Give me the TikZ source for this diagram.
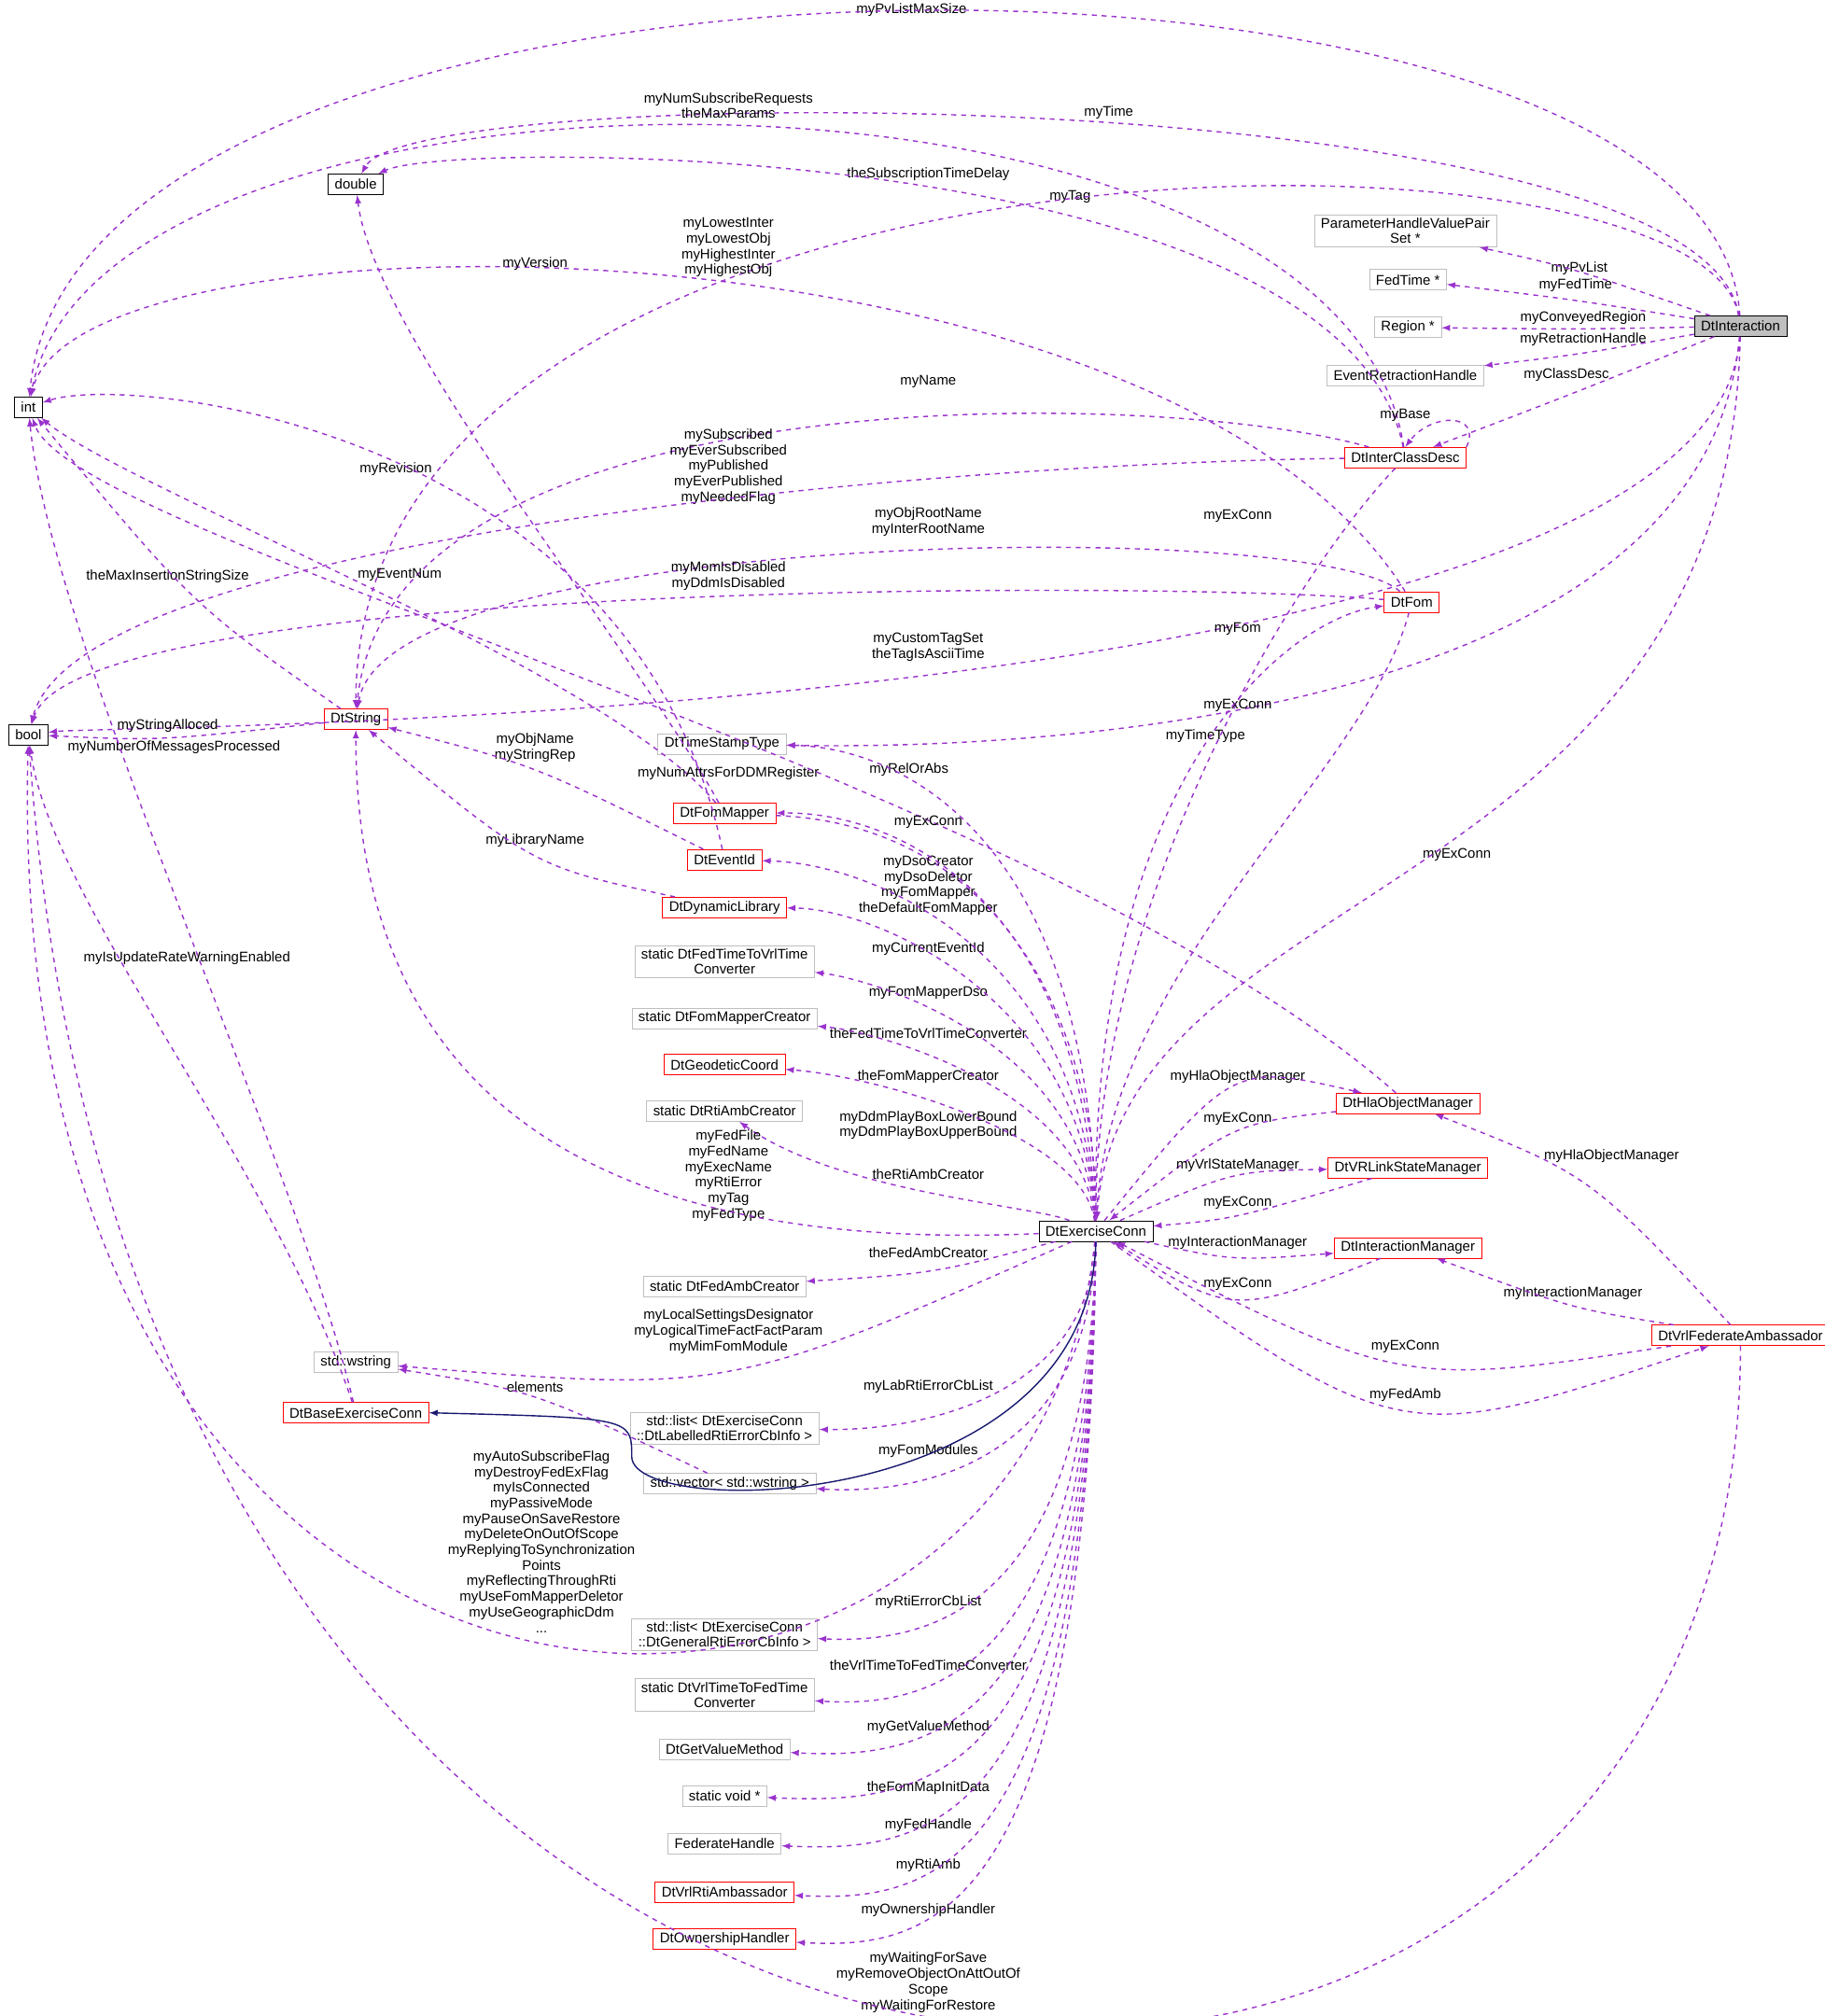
\documentclass[tikz,border=0pt]{standalone}
\usepackage{fontspec}
\setmainfont{Liberation Sans}
\usetikzlibrary{arrows,calc,positioning,shapes}

\definecolor{relpurple}{HTML}{9A32CD}
\definecolor{boxgray}{HTML}{BFBFBF}
\definecolor{inhblue}{HTML}{191970}

\tikzset{
  cls/.style={draw=black, rectangle, minimum height=0.44cm, inner xsep=4pt, inner ysep=2pt,
    align=center, font=\fontsize{8.5}{9.5}\selectfont},
  redcls/.style={cls, draw=red},
  graycls/.style={cls, draw=boxgray},
  focus/.style={cls, fill=boxgray},
  lbl/.style={align=center, inner sep=0.5pt, font=\fontsize{8.5}{9.5}\selectfont},
  usage/.style={draw=relpurple, dashed, thick, -latex},
  inherit/.style={draw=inhblue, thick, -latex}
}

% #1 from, #2 to, #3 name, #4 via point, #5 label position, #6 text
\newcommand{\collab}[6]{%
  \node[lbl] (l-#3) at (#5) {#6};
  \coordinate (v-#3) at (#4);
  \coordinate (m-#3) at ($(#1)!0.5!(#2)$);
  \draw[usage] (#1) .. controls ($(v-#3)!-0.3333!(m-#3)$) .. (#2);
}
% #1 from, #2 to, #3 name, #4 and #5 controls, #6 label position, #7 text
\newcommand{\collabc}[7]{%
  \node[lbl] (l-#3) at (#6) {#7};
  \draw[usage] (#1) .. controls (#4) and (#5) .. (#2);
}

\begin{document}
\begin{tikzpicture}[x=0.0276cm, y=-0.0276cm]
    \useasboundingbox (0,0) rectangle (1415,1564);

    % classes
    \node[cls] (nInt) at (22,316) {int};
    \node[cls] (nBool) at (22,570) {bool};
    \node[cls] (nDouble) at (276,143) {double};
    \node[focus] (nInteraction) at (1350,253) {DtInteraction};
    \node[graycls] (nPvPair) at (1090,179) {ParameterHandleValuePair\\Set *};
    \node[graycls] (nFedTime) at (1092,217) {FedTime *};
    \node[graycls] (nRegion) at (1092,254) {Region *};
    \node[graycls] (nRetraction) at (1090,291) {EventRetractionHandle};
    \node[redcls] (nClassDesc) at (1090,355) {DtInterClassDesc};
    \node[redcls] (nFom) at (1095,467) {DtFom};
    \node[redcls] (nString) at (276,558) {DtString};
    \node[graycls] (nTimeStamp) at (560,577) {DtTimeStampType};
    \node[redcls] (nFomMapper) at (562,631) {DtFomMapper};
    \node[redcls] (nEventId) at (562,667) {DtEventId};
    \node[redcls] (nDynLib) at (562,704) {DtDynamicLibrary};
    \node[graycls] (nFedToVrl) at (562,746) {static DtFedTimeToVrlTime\\Converter};
    \node[graycls] (nMapperCreator) at (562,790) {static DtFomMapperCreator};
    \node[redcls] (nGeodetic) at (562,826) {DtGeodeticCoord};
    \node[graycls] (nRtiAmbCreator) at (562,862) {static DtRtiAmbCreator};
    \node[cls] (nExConn) at (850,955) {DtExerciseConn};
    \node[graycls] (nFedAmbCreator) at (562,998) {static DtFedAmbCreator};
    \node[graycls] (nWstring) at (276,1057) {std::wstring};
    \node[redcls] (nBaseConn) at (276,1096) {DtBaseExerciseConn};
    \node[graycls] (nLabList) at (562,1108) {std::list< DtExerciseConn\\::DtLabelledRtiErrorCbInfo >};
    \node[graycls] (nVector) at (566,1151) {std::vector< std::wstring >};
    \node[graycls] (nGenList) at (562,1268) {std::list< DtExerciseConn\\::DtGeneralRtiErrorCbInfo >};
    \node[graycls] (nVrlToFed) at (562,1315) {static DtVrlTimeToFedTime\\Converter};
    \node[graycls] (nGetValue) at (562,1357) {DtGetValueMethod};
    \node[graycls] (nVoid) at (562,1393) {static void *};
    \node[graycls] (nFedHandle) at (562,1430) {FederateHandle};
    \node[redcls] (nRtiAmb) at (562,1468) {DtVrlRtiAmbassador};
    \node[redcls] (nOwnership) at (562,1504) {DtOwnershipHandler};
    \node[redcls] (nHlaMgr) at (1092,856) {DtHlaObjectManager};
    \node[redcls] (nStateMgr) at (1092,906) {DtVRLinkStateManager};
    \node[redcls] (nInterMgr) at (1092,968) {DtInteractionManager};
    \node[redcls] (nFedAmb) at (1350,1036) {DtVrlFederateAmbassador};

    % DtInteraction
    \collabc{nInteraction}{nInt}{a1}{1330,-80}{60,-80}{707,8}{myPvListMaxSize}
    \collabc{nInteraction}{nDouble}{a2}{1320,61}{320,61}{860,87}{myTime}
    \collabc{nInteraction}{nString}{a3}{1320,79}{276,79}{830,153}{myTag}
    \collab{nInteraction}{nPvPair}{a4}{1220,210}{1225,208}{myPvList}
    \collab{nInteraction}{nFedTime}{a5}{1220,233}{1222,221}{myFedTime}
    \collab{nInteraction}{nRegion}{a6}{1225,255}{1228,247}{myConveyedRegion}
    \collab{nInteraction}{nRetraction}{a7}{1225,274}{1228,263}{myRetractionHandle}
    \collab{nInteraction}{nClassDesc}{a8}{1220,305}{1215,291}{myClassDesc}
    \collabc{nInteraction}{nBool}{a9}{1330,563}{80,563}{720,502}{myCustomTagSet\\theTagIsAsciiTime}
    \collabc{nInteraction}{nTimeStamp}{a10}{1320,585}{700,580}{935,571}{myTimeType}
    \collabc{nInteraction}{nExConn}{a11}{1340,700}{870,680}{1130,663}{myExConn}

    % DtInterClassDesc
    \collabc{nClassDesc}{nInt}{b1}{1040,21}{80,21}{565,82}{myNumSubscribeRequests\\theMaxParams}
    \collabc{nClassDesc}{nDouble}{b2}{1040,108}{350,108}{720,135}{theSubscriptionTimeDelay}
    \collabc{nClassDesc}{nString}{b3}{900,300}{300,290}{720,296}{myName}
    \collabc{nClassDesc}{nBool}{b4}{700,360}{60,420}{565,362}{mySubscribed\\myEverSubscribed\\myPublished\\myEverPublished\\myNeededFlag}
    \node[lbl] (l-base) at (1090,322) {myBase};
    \draw[usage] (nClassDesc.north east) .. controls (1150,320) and (1110,320) .. (nClassDesc.north);
    \collabc{nClassDesc}{nExConn}{b5}{1000,450}{850,700}{960,400}{myExConn}

    % DtFom
    \collabc{nFom}{nInt}{c1}{900,156}{60,156}{565,192}{myLowestInter\\myLowestObj\\myHighestInter\\myHighestObj}
    \collabc{nFom}{nString}{c2}{1020,400}{300,410}{720,405}{myObjRootName\\myInterRootName}
    \collabc{nFom}{nBool}{c3}{900,450}{60,450}{565,447}{myMomIsDisabled\\myDdmIsDisabled}
    \collabc{nFom}{nExConn}{c4}{1060,600}{860,750}{960,547}{myExConn}
    \collabc{nExConn}{nFom}{c5}{845,600}{1000,480}{960,488}{myFom}

    % helper classes
    \collab{nString}{nInt}{d1}{150,462}{130,447}{theMaxInsertionStringSize}
    \collab{nString}{nBool}{d2}{130,572}{130,563}{myStringAlloced}
    \collabc{nFomMapper}{nDouble}{d3}{490,500}{290,260}{415,205}{myVersion}
    \collabc{nEventId}{nInt}{d4}{490,330}{100,290}{307,364}{myRevision}
    \collabc{nFomMapper}{nInt}{d5}{470,520}{100,380}{310,446}{myEventNum}
    \collab{nEventId}{nString}{d6}{415,598}{415,580}{myObjName\\myStringRep}
    \collab{nDynLib}{nString}{d7}{415,662}{415,652}{myLibraryName}
    \collabc{nHlaMgr}{nInt}{d8}{800,600}{60,420}{565,600}{myNumAttrsForDDMRegister}
    \collabc{nBaseConn}{nInt}{d9}{230,900}{40,500}{135,580}{myNumberOfMessagesProcessed}
    \collabc{nBaseConn}{nBool}{d10}{210,900}{40,700}{145,743}{myIsUpdateRateWarningEnabled}
    \collab{nVector}{nWstring}{d11}{415,1085}{415,1076}{elements}

    % DtExerciseConn
    \collabc{nExConn}{nTimeStamp}{e1}{845,650}{700,580}{705,597}{myRelOrAbs}
    \collabc{nFomMapper}{nExConn}{e2}{780,640}{850,800}{720,638}{myExConn}
    \collabc{nExConn}{nFomMapper}{e3}{840,700}{700,630}{720,687}{myDsoCreator\\myDsoDeletor\\myFomMapper\\theDefaultFomMapper}
    \collabc{nExConn}{nEventId}{e4}{840,740}{680,670}{720,736}{myCurrentEventId}
    \collabc{nExConn}{nDynLib}{e5}{840,775}{680,705}{720,770}{myFomMapperDso}
    \collabc{nExConn}{nFedToVrl}{e6}{840,810}{680,760}{720,802}{theFedTimeToVrlTimeConverter}
    \collabc{nExConn}{nMapperCreator}{e7}{840,845}{680,800}{720,835}{theFomMapperCreator}
    \collabc{nExConn}{nGeodetic}{e8}{840,880}{680,835}{720,873}{myDdmPlayBoxLowerBound\\myDdmPlayBoxUpperBound}
    \collabc{nExConn}{nRtiAmbCreator}{e9}{800,935}{650,925}{720,911}{theRtiAmbCreator}
    \collabc{nExConn}{nString}{e10}{400,975}{276,800}{565,912}{myFedFile\\myFedName\\myExecName\\myRtiError\\myTag\\myFedType}
    \collab{nExConn}{nFedAmbCreator}{e11}{720,985}{720,972}{theFedAmbCreator}
    \collab{nExConn}{nWstring}{e12}{565,1062}{565,1033}{myLocalSettingsDesignator\\myLogicalTimeFactFactParam\\myMimFomModule}
    \collabc{nExConn}{nLabList}{e13}{845,1080}{720,1110}{720,1076}{myLabRtiErrorCbList}
    \collabc{nExConn}{nVector}{e14}{845,1130}{720,1160}{720,1126}{myFomModules}
    \collabc{nExConn}{nBool}{e15}{800,1439}{0,1439}{420,1196}{myAutoSubscribeFlag\\myDestroyFedExFlag\\myIsConnected\\myPassiveMode\\myPauseOnSaveRestore\\myDeleteOnOutOfScope\\myReplyingToSynchronization\\Points\\myReflectingThroughRti\\myUseFomMapperDeletor\\myUseGeographicDdm\\...}
    \collabc{nExConn}{nGenList}{e16}{845,1250}{720,1275}{720,1243}{myRtiErrorCbList}
    \collabc{nExConn}{nVrlToFed}{e17}{845,1300}{720,1325}{720,1292}{theVrlTimeToFedTimeConverter}
    \collabc{nExConn}{nGetValue}{e18}{845,1345}{720,1365}{720,1340}{myGetValueMethod}
    \collabc{nExConn}{nVoid}{e19}{845,1385}{720,1400}{720,1387}{theFomMapInitData}
    \collabc{nExConn}{nFedHandle}{e20}{845,1420}{720,1437}{720,1416}{myFedHandle}
    \collabc{nExConn}{nRtiAmb}{e21}{845,1460}{720,1475}{720,1447}{myRtiAmb}
    \collabc{nExConn}{nOwnership}{e22}{845,1495}{720,1512}{720,1482}{myOwnershipHandler}
    \collab{nExConn}{nHlaMgr}{e23}{960,845}{960,835}{myHlaObjectManager}
    \collab{nHlaMgr}{nExConn}{e24}{960,880}{960,868}{myExConn}
    \collab{nExConn}{nStateMgr}{e25}{960,914}{960,904}{myVrlStateManager}
    \collab{nStateMgr}{nExConn}{e26}{960,942}{960,933}{myExConn}
    \collab{nExConn}{nInterMgr}{e27}{960,974}{960,964}{myInteractionManager}
    \collab{nInterMgr}{nExConn}{e28}{960,1006}{960,996}{myExConn}
    \collab{nFedAmb}{nExConn}{e29}{1090,1056}{1090,1045}{myExConn}
    \collab{nExConn}{nFedAmb}{e30}{1090,1092}{1090,1082}{myFedAmb}
    \collab{nFedAmb}{nHlaMgr}{e31}{1230,920}{1250,897}{myHlaObjectManager}
    \collab{nFedAmb}{nInterMgr}{e32}{1220,1012}{1220,1003}{myInteractionManager}
    \collabc{nFedAmb}{nBool}{e33}{1350,1815}{110,1815}{720,1538}{myWaitingForSave\\myRemoveObjectOnAttOutOf\\Scope\\myWaitingForRestore}

    % inheritance
    \draw[inherit] (nExConn.south) .. controls (845,1175) and (490,1180) .. (490,1130)
      .. controls (490,1100) .. (nBaseConn.east);
\end{tikzpicture}
\end{document}
